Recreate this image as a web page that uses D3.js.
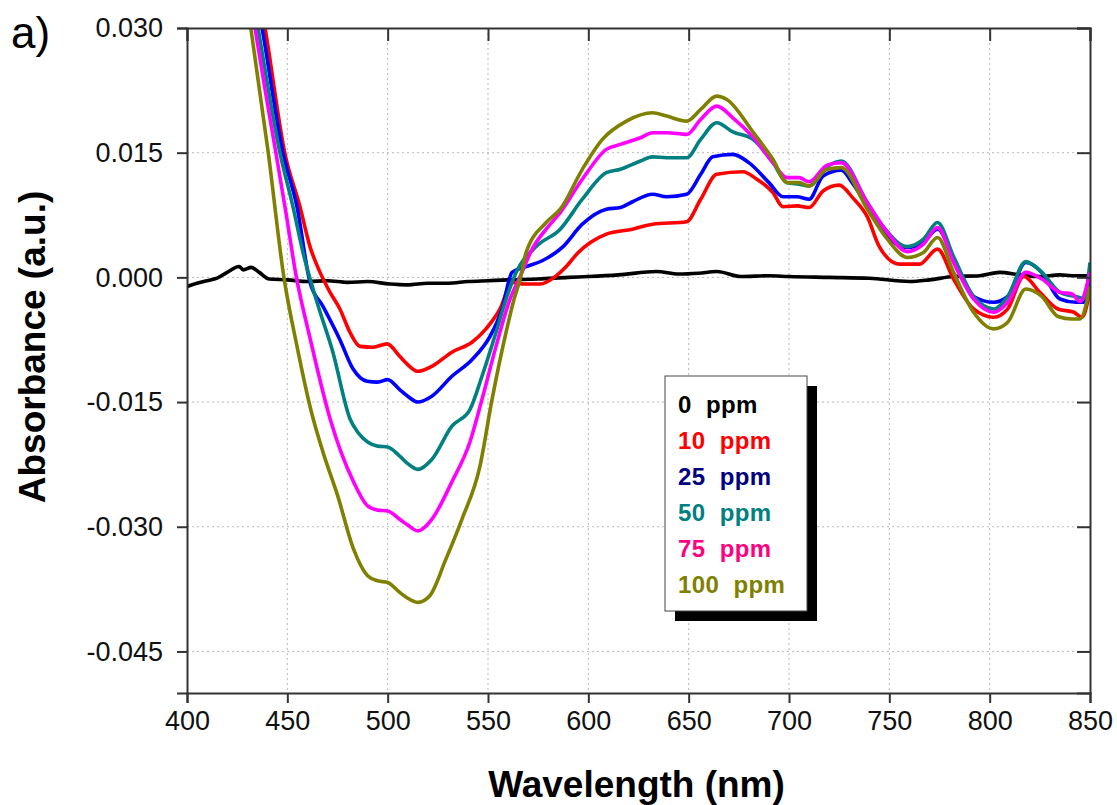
<!DOCTYPE html>
<html>
<head>
<meta charset="utf-8">
<script src="https://cdn.jsdelivr.net/npm/d3@7"></script>
<style>
  body { margin: 0; background: #fff; }
  svg { font-family: Arial, "Liberation Sans", sans-serif; }
  .grid line { stroke: #b8b8c0; stroke-width: 1; stroke-dasharray: 2,3; }
  .legend text { white-space: pre; }
</style>
</head>
<body>
<div class="spectra-js"></div>
<script>
'use strict';

// Series labels and colours (legend order)
var seriesLabels = ["0 ppm", "10 ppm", "25 ppm", "50 ppm", "75 ppm", "100 ppm"];
var lineColors = ["#000000", "#ff0000", "#0000ff", "#008080", "#ff00ff", "#808000"];
var textColors = ["#000000", "#ff0000", "#000080", "#008080", "#ff0080", "#808000"];

var xTicks = [400, 450, 500, 550, 600, 650, 700, 750, 800, 850];
var yTicks = [0.030, 0.015, 0.000, -0.015, -0.030, -0.045];

// [wavelength nm, absorbance]
var ppm0 = [[400,-0.0011],[405,-0.0007],[410,-0.0004],[415,-0.0001],[420,0.0006],[426,0.0013],[428,0.0009],[432,0.0012],[436,0.0006],[441,-0.0002],[450,-0.0003],[460,-0.0005],[470,-0.0004],[480,-0.0006],[490,-0.0005],[501,-0.0008],[510,-0.0009],[520,-0.0007],[530,-0.0007],[540,-0.0005],[550,-0.0004],[560,-0.0003],[575,-0.0002],[590,0.0],[600,0.0001],[615,0.0003],[634,0.0007],[645,0.0004],[655,0.0005],[664,0.0007],[676,0.0001],[690,0.0002],[700,0.0001],[720,0.0],[740,-0.0001],[760,-0.0005],[770,-0.0003],[782,0.0001],[795,0.0002],[805,0.0006],[815,0.0003],[825,0.0001],[835,0.0003],[841,0.0002],[850,0.0002]];

var ppm10 = [[425,0.047],[438.9,0.030],[448.8,0.0149],[456.3,0.0085],[461.3,0.0037],[466.3,0.0006],[471.3,-0.0018],[476.2,-0.0038],[481.2,-0.0066],[486.2,-0.0083],[492.7,-0.0084],[499.7,-0.008],[506,-0.0095],[510,-0.0105],[515,-0.0113],[522,-0.0107],[532,-0.009],[542,-0.0078],[549,-0.0062],[556,-0.0038],[562,-0.0006],[568,-0.0008],[576,-0.0008],[583,0.0],[589,0.0013],[595,0.003],[601,0.0042],[609,0.0052],[622,0.0058],[632,0.0064],[649,0.0067],[656,0.0094],[664,0.0124],[677,0.0127],[684,0.0118],[692,0.0102],[697,0.0085],[704,0.0086],[710,0.0084],[717,0.0104],[725,0.0111],[732,0.0095],[739,0.0073],[745,0.0037],[755,0.0016],[765,0.0016],[774,0.0034],[782,-0.0002],[792,-0.0038],[802,-0.0048],[809,-0.0038],[817,0.0001],[825,-0.0018],[834,-0.0038],[842,-0.0042],[846,-0.0048],[850,-0.0015]];

var ppm25 = [[425,0.046],[437.4,0.030],[447.8,0.015],[454.8,0.0085],[461.3,-0.0006],[467.8,-0.0035],[476.2,-0.0075],[482.7,-0.011],[489.7,-0.0125],[495,-0.0126],[500,-0.0123],[506,-0.0135],[510,-0.0143],[515,-0.015],[522,-0.0143],[532,-0.0119],[542,-0.0099],[551,-0.0071],[557,-0.0038],[562,0.0006],[569,0.0013],[577,0.002],[587,0.0036],[597,0.0064],[609,0.0082],[616,0.0084],[622,0.0091],[632,0.01],[639,0.0097],[649,0.01],[656,0.0124],[662,0.0145],[672,0.0148],[680,0.0138],[690,0.0114],[697,0.0097],[704,0.0097],[710,0.0094],[717,0.0122],[726,0.0129],[732,0.0112],[739,0.0085],[749,0.0049],[759,0.0036],[767,0.0042],[774,0.0058],[784,0.001],[792,-0.0023],[802,-0.003],[809,-0.0023],[818,0.0018],[826,0.0006],[835,-0.0026],[843,-0.003],[847,-0.003],[850,0.0006]];

var ppm50 = [[425,0.045],[435.4,0.030],[446.3,0.015],[452.8,0.0085],[457.8,0.003],[464.8,-0.003],[472.7,-0.009],[481.2,-0.017],[485,-0.0186],[490,-0.0198],[495,-0.0203],[500,-0.0204],[506,-0.0215],[510,-0.0224],[515,-0.0231],[522,-0.0219],[532,-0.0179],[541,-0.0159],[547,-0.0119],[554,-0.0066],[559,-0.0026],[564,0.0006],[574,0.0037],[586,0.0058],[597,0.0094],[609,0.0126],[616,0.013],[626,0.014],[632,0.0145],[639,0.0144],[649,0.0144],[656,0.0166],[664,0.0186],[672,0.0175],[682,0.0166],[692,0.0138],[699,0.0114],[705,0.0112],[710,0.011],[719,0.0133],[726,0.014],[739,0.009],[747,0.0061],[759,0.0037],[767,0.0046],[774,0.0066],[782,0.0025],[792,-0.0023],[802,-0.0038],[809,-0.0023],[818,0.0019],[826,0.0006],[835,-0.0018],[843,-0.0023],[847,-0.0025],[850,0.0018]];

var ppm75 = [[425,0.044],[433.9,0.030],[438.9,0.0226],[444.3,0.015],[449.3,0.0078],[454.3,0.0003],[461.3,-0.0073],[471.3,-0.017],[483,-0.0246],[490,-0.0275],[495,-0.028],[500,-0.0281],[506,-0.0291],[510,-0.0298],[515,-0.0305],[522,-0.0291],[532,-0.0246],[541,-0.0198],[547,-0.0147],[554,-0.0083],[561,-0.0026],[566,0.0001],[572,0.0034],[580,0.0061],[586,0.0078],[597,0.0118],[609,0.0154],[616,0.016],[626,0.0168],[632,0.0174],[639,0.0174],[649,0.0172],[656,0.019],[664,0.0206],[672,0.0192],[682,0.0169],[692,0.0138],[699,0.012],[705,0.012],[710,0.0115],[719,0.0135],[726,0.0138],[739,0.009],[749,0.0054],[759,0.0031],[767,0.004],[774,0.006],[782,0.0018],[792,-0.0026],[802,-0.0042],[809,-0.003],[818,0.0006],[826,-0.0002],[835,-0.0018],[841,-0.002],[845,-0.0029],[850,0.0006]];

var ppm100 = [[425,0.041],[431.8,0.030],[440.5,0.015],[448.3,0.0],[455,-0.0085],[462,-0.0162],[468,-0.0212],[475,-0.0262],[483,-0.0327],[490,-0.0359],[495,-0.0365],[500,-0.0367],[506,-0.0379],[510,-0.0386],[515,-0.0391],[521,-0.0383],[529,-0.0339],[537,-0.0291],[546,-0.0227],[552,-0.0147],[559,-0.0066],[563,-0.0026],[566,-0.0002],[569,0.003],[579,0.0066],[586,0.0082],[597,0.013],[607,0.0166],[619,0.0188],[632,0.0198],[639,0.0194],[649,0.0188],[656,0.0202],[664,0.0218],[669,0.0214],[682,0.0175],[692,0.0142],[699,0.0114],[705,0.0114],[710,0.011],[719,0.013],[726,0.0132],[739,0.0082],[749,0.0046],[759,0.0024],[767,0.003],[774,0.0048],[782,0.0006],[792,-0.0042],[802,-0.0062],[809,-0.0054],[818,-0.0014],[826,-0.0023],[834,-0.0047],[841,-0.005],[845,-0.005],[850,-0.0011]];

var allSeries = [ppm0, ppm10, ppm25, ppm50, ppm75, ppm100];

var App = (function() {
function run() {

  var margin = {top: 28, right: 27, bottom: 112, left: 187};

  // Outer Sizing
  var owidth = 1117;
  var oheight = 805;

  // Inner Sizing
  var cwidth = owidth - margin.left - margin.right;
  var cheight = oheight - margin.top - margin.bottom;

  var xData = d3.scaleLinear()
    .domain([400, 850])
    .range([0, cwidth]);

  var yData = d3.scaleLinear()
    .domain([-0.05, 0.03])
    .range([cheight, 0]);

  var line = d3.line()
    .curve(d3.curveMonotoneX)
    .x(function(d) { return xData(d[0]); })
    .y(function(d) { return yData(d[1]); });

  var svg = d3.select(".spectra-js").append("svg")
    .attr("width", owidth)
    .attr("height", oheight);

  var chart = svg.append("g")
    .attr("transform", "translate(" + margin.left + "," + margin.top + ")");

  chart.append("clipPath")
    .attr("id", "plot-clip")
    .append("rect")
    .attr("width", cwidth)
    .attr("height", cheight);

  // dotted grid
  var grid = chart.append("g").attr("class", "grid");
  grid.selectAll(".gx")
    .data(xTicks.slice(1, -1))
    .enter().append("line")
    .attr("x1", function(d) { return xData(d); })
    .attr("x2", function(d) { return xData(d); })
    .attr("y1", 0)
    .attr("y2", cheight);
  grid.selectAll(".gy")
    .data(yTicks.slice(1))
    .enter().append("line")
    .attr("x1", 0)
    .attr("x2", cwidth)
    .attr("y1", function(d) { return yData(d); })
    .attr("y2", function(d) { return yData(d); });

  // curves
  chart.append("g")
    .attr("clip-path", "url(#plot-clip)")
    .selectAll("path")
    .data(allSeries)
    .enter().append("path")
    .attr("fill", "none")
    .attr("stroke", function(d, i) { return lineColors[i]; })
    .attr("stroke-width", 3.6)
    .attr("stroke-linejoin", "round")
    .attr("d", line);

  // axes
  var xAxis = d3.axisBottom(xData).tickValues(xTicks).tickSize(10).tickPadding(8)
    .tickFormat(d3.format("d"));
  var yAxis = d3.axisLeft(yData).tickValues(yTicks).tickSize(10).tickPadding(14)
    .tickFormat(d3.format(".3f"));
  var xTop = d3.axisTop(xData).tickValues(xTicks).tickSize(-13).tickFormat("");
  var yRight = d3.axisRight(yData).tickValues(yTicks).tickSize(-13).tickFormat("");

  var gx = chart.append("g")
    .attr("transform", "translate(0," + cheight + ")")
    .call(xAxis);
  var gy = chart.append("g").call(yAxis);
  var gt = chart.append("g").call(xTop);
  var gr = chart.append("g")
    .attr("transform", "translate(" + cwidth + ",0)")
    .call(yRight);

  [gx, gy, gt, gr].forEach(function(g) {
    g.select(".domain").attr("stroke", "#333").attr("stroke-width", 2);
    g.selectAll(".tick line").attr("stroke", "#333").attr("stroke-width", 2);
    g.selectAll(".tick text")
      .attr("fill", "#111")
      .style("font-size", "27px")
      .style("font-family", "Arial, 'Liberation Sans', sans-serif");
  });
  gy.selectAll(".tick text").text(function(d) { return d3.format(".3f")(d).replace("−", "-"); });

  // axis titles
  svg.append("text")
    .attr("x", margin.left + cwidth / 2 - 2)
    .attr("y", 797)
    .attr("text-anchor", "middle")
    .style("font-size", "37px")
    .style("font-weight", "bold")
    .text("Wavelength (nm)");

  svg.append("text")
    .attr("transform", "translate(45," + 347 + ") rotate(-90)")
    .attr("text-anchor", "middle")
    .style("font-size", "37px")
    .style("font-weight", "bold")
    .text("Absorbance (a.u.)");

  svg.append("text")
    .attr("x", 11)
    .attr("y", 48)
    .style("font-size", "44px")
    .text("a)");

  // legend with drop shadow
  var legend = svg.append("g")
    .attr("class", "legend")
    .attr("transform", "translate(665,376)");
  legend.append("rect")
    .attr("x", 10).attr("y", 10)
    .attr("width", 142).attr("height", 235)
    .attr("fill", "#000");
  legend.append("rect")
    .attr("width", 142).attr("height", 235)
    .attr("fill", "#fff")
    .attr("stroke", "#444")
    .attr("stroke-width", 1);
  legend.selectAll(".ltext")
    .data(seriesLabels)
    .enter().append("text")
    .attr("x", 13)
    .attr("y", function(d, i) { return 37 + i * 36; })
    .attr("fill", function(d, i) { return textColors[i]; })
    .style("font-size", "24px")
    .style("font-weight", "bold")
    .style("letter-spacing", "0.4px")
    .text(function(d) { return d.replace(" ", "  "); });
}

return { run : run };
}());
document.addEventListener('DOMContentLoaded', App.run);
</script>
</body>
</html>
